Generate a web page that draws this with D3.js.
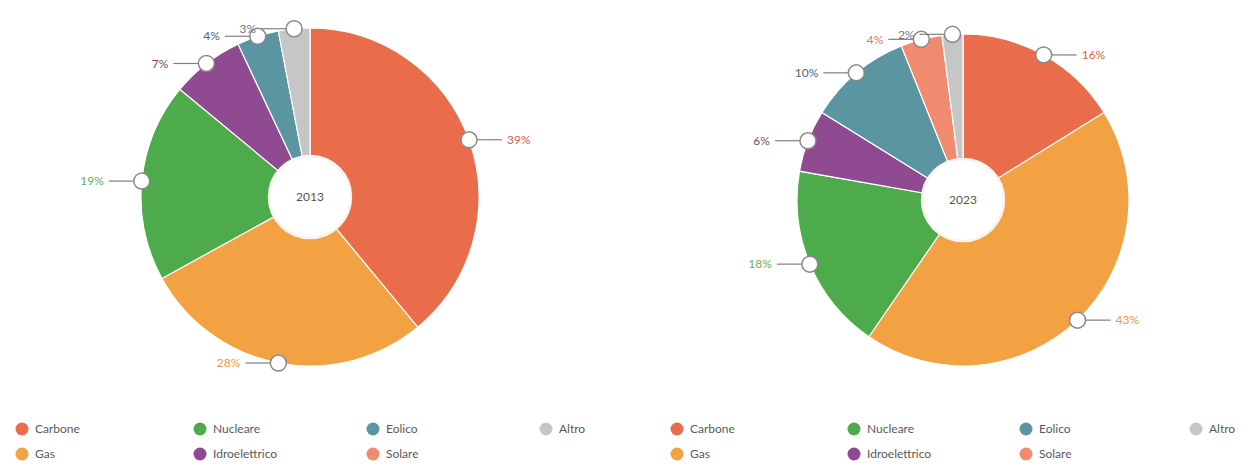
<!DOCTYPE html>
<html>
<head>
<meta charset="utf-8">
<script src="https://cdn.jsdelivr.net/npm/d3@7"></script>
<style>
  html, body { margin: 0; padding: 0; background: #ffffff; }
  svg { display: block; font-family: Lato, "Open Sans", sans-serif; }
</style>
</head>
<body>
<svg id="chart" width="1244" height="467"></svg>
<script>
// Electricity mix by source, two years side by side
const categories = ["Carbone", "Gas", "Nucleare", "Idroelettrico", "Eolico", "Solare", "Altro"];
const colors = ["#ea6d4b", "#f2a243", "#4eab4c", "#8f4a91", "#5b95a2", "#f08b70", "#c6c6c6"];
const labelColors = ["#d9603f", "#e89a3a", "#6aad4e", "#8a3f73", "#4f6578", "#e0794f", "#777777"];
const years = ["2013", "2023"];
const values2013 = [39, 28, 19, 7, 4, 0, 3];
const values2023 = [16, 43, 18, 6, 10, 4, 2];
// legend layout: column/row for each category
const legendCols = [0, 0, 1, 1, 2, 2, 3];
const legendRows = [0, 1, 0, 1, 0, 1, 0];

const svg = d3.select("#chart");

const panels = [
  { year: years[0], values: values2013, cx: 310, cy: 197, r: 169, legendX: 22, colW: [0, 178, 351, 524] },
  { year: years[1], values: values2023, cx: 963, cy: 200, r: 166, legendX: 677, colW: [0, 177, 349, 519] }
];

const pie = d3.pie().sort(null).value(d => d.value).startAngle(0).endAngle(2 * Math.PI);

panels.forEach(p => {
  const data = categories.map((c, i) => ({ name: c, value: p.values[i], color: colors[i], lc: labelColors[i] }));
  const arcs = pie(data);
  const arc = d3.arc().innerRadius(0).outerRadius(p.r);

  const g = svg.append("g").attr("transform", `translate(${p.cx},${p.cy})`);

  g.selectAll("path.slice")
    .data(arcs.filter(a => a.data.value > 0))
    .join("path")
    .attr("class", "slice")
    .attr("d", arc)
    .attr("fill", d => d.data.color)
    .attr("stroke", "#ffffff")
    .attr("stroke-width", 1.2);

  // centre hole with year
  g.append("circle").attr("r", 41).attr("fill", "#ffffff")
    .attr("stroke", "#f6f3f0").attr("stroke-width", 2.5);
  g.append("text")
    .attr("text-anchor", "middle").attr("dy", "0.35em")
    .attr("font-size", 12).attr("fill", "#555555")
    .text(p.year);

  // value labels with marker circles on the rim
  const lab = g.selectAll("g.lab")
    .data(arcs.filter(a => a.data.value > 0))
    .join("g").attr("class", "lab");

  lab.each(function(d) {
    const a = (d.startAngle + d.endAngle) / 2;
    const x = Math.sin(a) * p.r;
    const y = -Math.cos(a) * p.r;
    const side = x >= 0 ? 1 : -1;
    const sel = d3.select(this);
    const mr = 8;
    sel.append("line")
      .attr("x1", x + side * mr).attr("y1", y)
      .attr("x2", x + side * (mr + 25)).attr("y2", y)
      .attr("stroke", "#808080").attr("stroke-width", 1.2);
    sel.append("circle")
      .attr("cx", x).attr("cy", y).attr("r", mr)
      .attr("fill", "#ffffff").attr("stroke", "#8a8a8a").attr("stroke-width", 1.5);
    sel.append("text")
      .attr("x", x + side * (mr + 30)).attr("y", y)
      .attr("dy", "0.35em")
      .attr("text-anchor", side > 0 ? "start" : "end")
      .attr("font-size", 12)
      .attr("fill", d.data.lc)
      .text(d.data.value + "%");
  });

  // legend
  const lg = svg.append("g").attr("transform", `translate(${p.legendX},0)`);
  const items = lg.selectAll("g.item").data(categories).join("g").attr("class", "item")
    .attr("transform", (d, i) => `translate(${p.colW[legendCols[i]]},${429 + legendRows[i] * 25})`);
  items.append("circle").attr("r", 6.5).attr("fill", (d, i) => colors[i]);
  items.append("text").attr("x", 13).attr("dy", "0.35em")
    .attr("font-size", 12).attr("fill", "#5a5a5a").text(d => d);
});
</script>
</body>
</html>
